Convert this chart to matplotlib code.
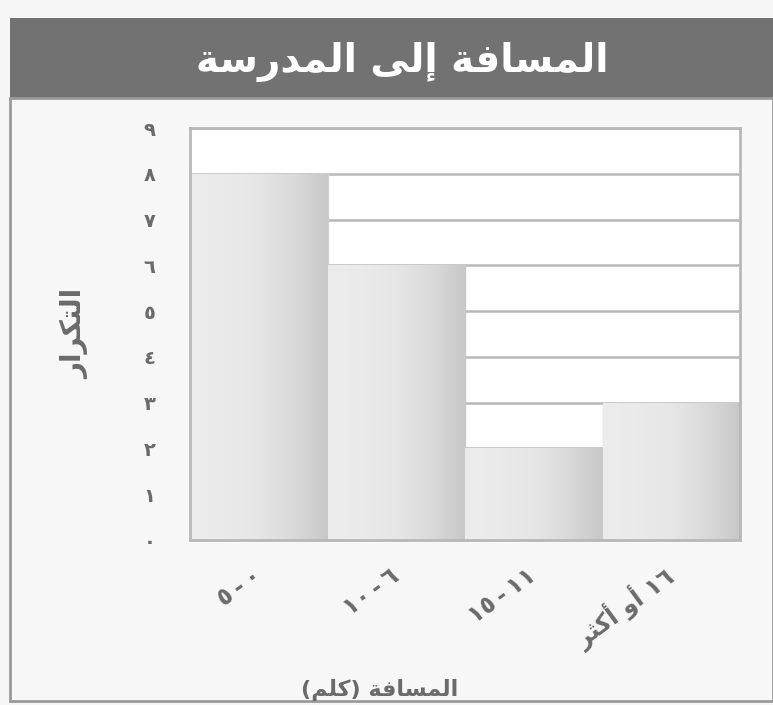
import numpy as np
import matplotlib
matplotlib.use("Agg")
import matplotlib.pyplot as plt
from matplotlib.patches import Rectangle

# Arabic text written in visual order with presentation forms (no shaping engine)
title = "\uFE94\uFEB3\uFEAD\uFEAA\uFEE4\uFEDF\uFE8D \uFEF0\uFEDF\uFE87 \uFE94\uFED3\uFE8E\uFEB4\uFEE4\uFEDF\uFE8D"
ylabel = "\uFEAD\uFE8D\uFEAE\uFEDC\uFE98\uFEDF\uFE8D"
xlabel = "(\uFEE2\uFEE0\uFEDB) \uFE94\uFED3\uFE8E\uFEB4\uFEE4\uFEDF\uFE8D"

categories = ["\u0665\u2009-\u2009\u0660", "\u0661\u0660\u2009-\u2009\u0666",
              "\u0661\u0665\u2009-\u2009\u0661\u0661",
              "\uFEAE\uFE9C\uFEDB\uFE83 \uFEED\uFE83 \u0661\u0666"]
frequency = [8, 6, 2, 3]
ytick_labels = ["\u0660", "\u0661", "\u0662", "\u0663", "\u0664",
                "\u0665", "\u0666", "\u0667", "\u0668", "\u0669"]

plt.rcParams['font.family'] = ['DejaVu Sans']

fig = plt.figure(figsize=(7.73, 7.05), dpi=100, facecolor='#f6f6f6')

# title banner
fig.patches.append(Rectangle((10/773, 1-98/705), 1-10/773, 80/705, transform=fig.transFigure,
                             facecolor='#727272', edgecolor='none', zorder=-10))
fig.patches.append(Rectangle((10/773, 4/705), 1-10/773, 1-102/705, transform=fig.transFigure,
                             facecolor='#f7f7f7', edgecolor='#9a9a9a', linewidth=2, zorder=-10))
fig.text(0.52, 1-62/705, title, color='white', fontsize=28, fontweight='bold',
         ha='center', va='center')

ax = fig.add_axes([190/773, 1-540/705, 550/773, 412/705])
ax.set_zorder(5)
ax.set_facecolor('white')
x = np.arange(len(frequency)) + 0.5
bars = ax.bar(x, frequency, width=1.0, color='#e6e6e6', edgecolor='#cfcfcf', linewidth=1, zorder=2)

# light-to-dark shading on each bar
grad = np.linspace(0.0, 1.0, 200)
grad = np.vstack([grad, grad])
cmap = matplotlib.colors.LinearSegmentedColormap.from_list(
    'silver', ['#ececec', '#eaeaea', '#e6e6e6', '#dadada', '#c8c8c8'])
for b in bars:
    im = ax.imshow(grad, cmap=cmap, aspect='auto', zorder=2.5,
                   extent=(b.get_x(), b.get_x() + b.get_width(), 0, b.get_height()))
    im.set_clip_path(b)

ax.set_xlim(0, 4)
ax.set_ylim(0, 9)
ax.set_yticks(range(10))
ax.set_yticklabels(ytick_labels, fontsize=14, color='#6a6a6a', fontweight='bold')
ax.yaxis.grid(True, color='#b8b8b8', linewidth=1.8)
ax.set_axisbelow(True)
ax.tick_params(length=0, pad=25)
ax.set_xticks(x)
ax.set_xticklabels(categories, rotation=36, ha='right', va='center', rotation_mode='anchor',
                   fontsize=17, color='#6a6a6a', fontweight='bold')
ax.tick_params(axis='x', pad=24)
for s in ax.spines.values():
    s.set_color('#b8b8b8')
    s.set_linewidth(2)

ax.set_ylabel(ylabel, fontsize=20, color='#6a6a6a', fontweight='bold', va='center')
ax.yaxis.set_label_coords((75 - 190) / 550, 0.5)
ax.set_xlabel(xlabel, fontsize=16, color='#6a6a6a', fontweight='bold', va='center')
ax.xaxis.set_label_coords((380 - 190) / 550, (540 - 690) / 412)

fig.savefig('out.png', dpi=100, facecolor=fig.get_facecolor())
